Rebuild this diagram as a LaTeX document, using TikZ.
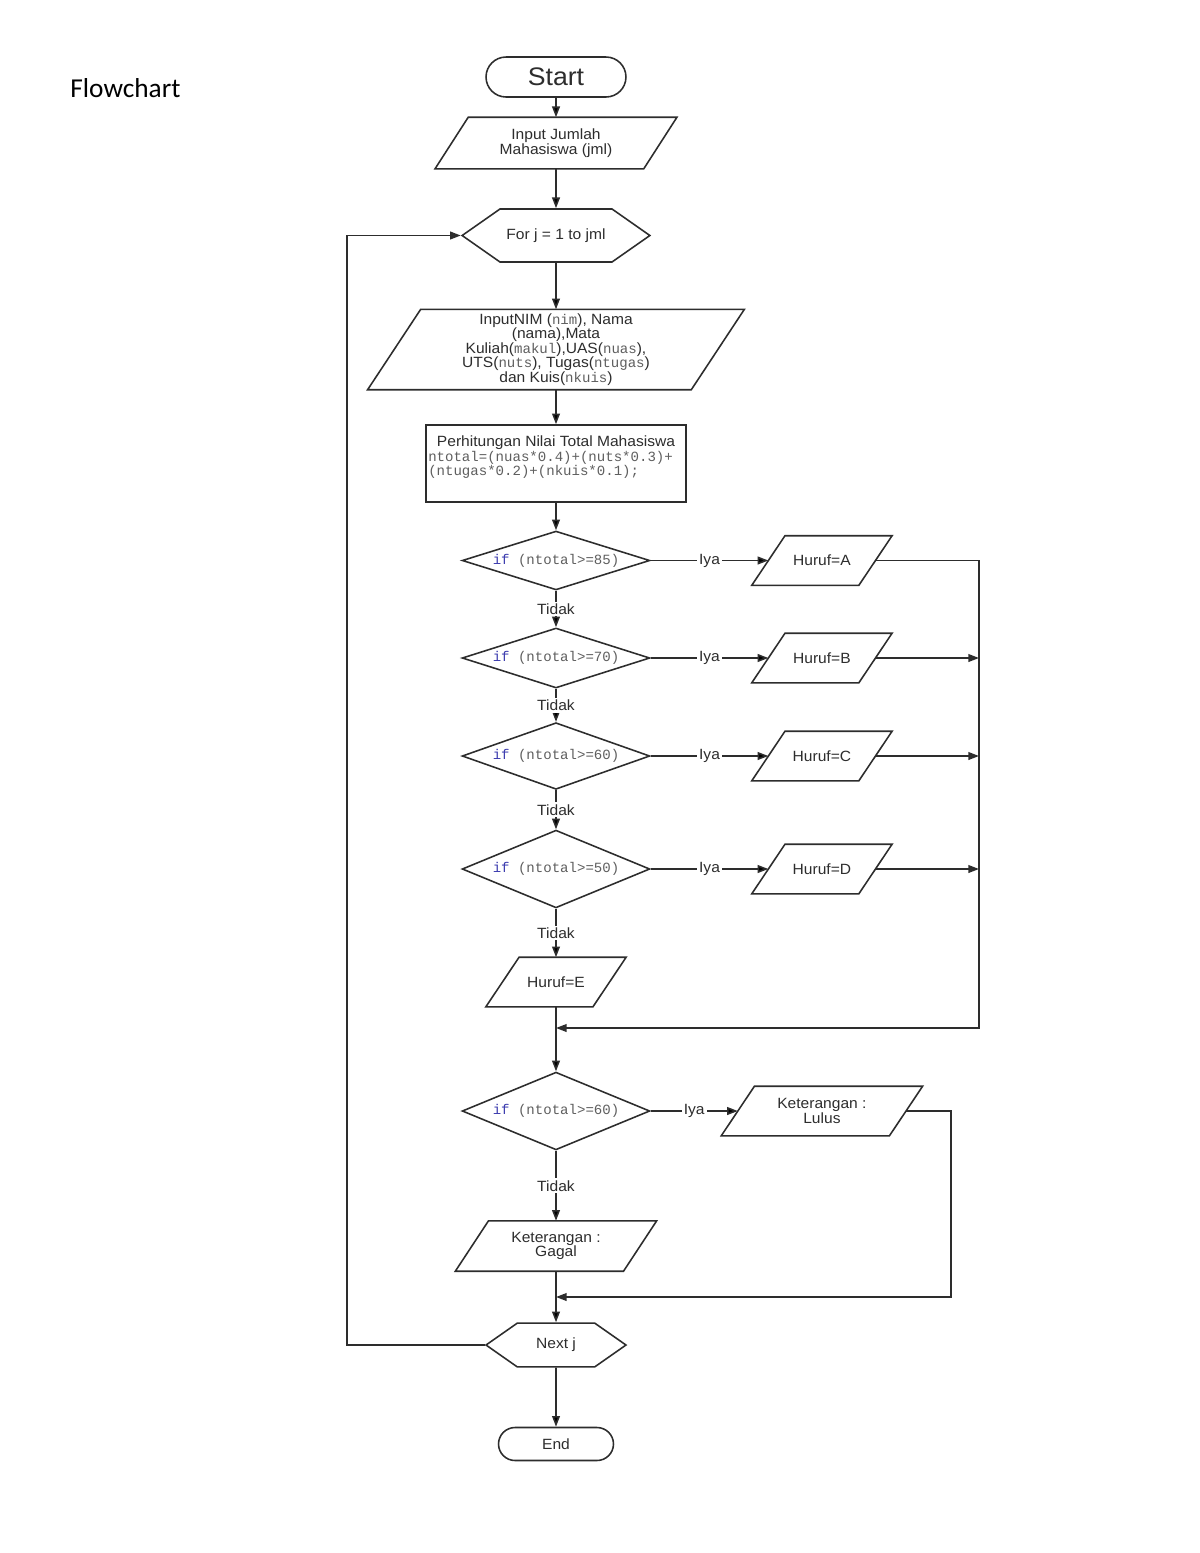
\documentclass[tikz,border=0pt]{standalone}
\usepackage{fontspec}
\setmainfont{Liberation Sans}[FakeStretch=1.05]
\setmonofont{Liberation Mono}
\newfontfamily\titlefont{Carlito}
\usetikzlibrary{shapes.geometric,shapes.misc,shapes.symbols,arrows.meta,positioning}

\definecolor{ink}{RGB}{45,45,45}
\definecolor{codegray}{RGB}{95,95,95}
\definecolor{kwblue}{RGB}{60,60,175}

\newcommand{\codetxt}[1]{{\ttfamily\fontsize{7.2}{7.7}\selectfont\color{codegray}#1}}
\newcommand{\iftest}[1]{\codetxt{\textcolor{kwblue}{if} (ntotal>=#1)}}
\newcommand{\bodyfont}{\fontsize{7.6}{7.4}\selectfont\lineskiplimit=-5pt}

\begin{document}
\begin{tikzpicture}[x=0.018cm, y=-0.018cm,
	every node/.style={text=ink, font=\bodyfont},
	line/.style={draw=ink, line width=0.8pt},
	flow/.style={line, -{Triangle[length=5.5pt,width=4pt]}},
	term/.style={rounded rectangle, draw=ink, line width=0.8pt, fill=white, inner sep=0pt},
	io/.style={rectangle, inner sep=0pt, outer sep=0.4pt, align=center,
		append after command={\pgfextra{\draw[line]
			([xshift=-#1]\tikzlastnode.south west) -- ([xshift=#1]\tikzlastnode.north west) --
			([xshift=#1]\tikzlastnode.north east) -- ([xshift=-#1]\tikzlastnode.south east) -- cycle;}}},
	io/.default=8.5pt,
	hexa/.style={signal, signal to=west and east, signal pointer angle=70,
		draw=ink, line width=0.8pt, fill=white, inner sep=0pt},
	decide/.style={diamond, aspect=3.2, draw=ink, line width=0.8pt, fill=white,
		inner sep=0pt, minimum width=3.38cm},
	proc/.style={rectangle, draw=ink, line width=0.8pt, fill=white, inner sep=0pt,
		minimum width=4.68cm, minimum height=1.386cm},
	lbl/.style={fill=white, inner sep=1pt},
	node distance=2.12cm]
	\path[use as bounding box, fill=white] (0,0) rectangle (1200,1553);
	\node[anchor=base west, inner sep=0pt, font=\titlefont\fontsize{14}{17}\selectfont, text=black] (title) at (70,97) {Flowchart};

	% main column
	\node[term, minimum width=2.52cm, minimum height=0.72cm, font=\fontsize{13}{15}\selectfont] (start) at (556,77) {Start};
	\node[io, minimum width=3.73cm, minimum height=0.9cm] (inp) at (556,143) {Input Jumlah\\Mahasiswa (jml)};
	\node[hexa, minimum width=3.38cm, minimum height=0.954cm] (forj) at (556,235.5) {For j = 1 to jml};
	\node[io=13.6pt, minimum width=5.8cm, minimum height=1.42cm] (nim) at (556,349.5) {InputNIM (\codetxt{nim}), Nama\\(nama),Mata\\Kuliah(\codetxt{makul}),UAS(\codetxt{nuas}),\\UTS(\codetxt{nuts}), Tugas(\codetxt{ntugas})\\dan Kuis(\codetxt{nkuis})};
	\node[proc] (hitung) at (556,463.5) {\begin{minipage}[c][1.3cm][t]{4.6cm}\vspace*{4.5pt}\centering Perhitungan Nilai Total Mahasiswa\par
		\raggedright\codetxt{ntotal=(nuas*0.4)+(nuts*0.3)+}\par\codetxt{(ntugas*0.2)+(nkuis*0.1);}\end{minipage}};
	\node[decide, minimum height=1.06cm] (d85) at (556,560.5) {\iftest{85}};
	\node[decide, minimum height=1.08cm] (d70) at (556,658) {\iftest{70}};
	\node[decide, minimum height=1.2cm] (d60) at (556,756) {\iftest{60}};
	\node[decide, minimum height=1.4cm] (d50) at (556,869) {\iftest{50}};
	\node[io, minimum width=1.9cm, minimum height=0.864cm] (he) at (556,982) {Huruf=E};
	\node[decide, minimum height=1.4cm] (dlulus) at (556,1111) {\iftest{60}};
	\node[io, minimum width=3.0cm, minimum height=0.88cm] (gagal) at (556,1246) {Keterangan :\\Gagal};
	\node[hexa, minimum width=2.52cm, minimum height=0.79cm] (nextj) at (556,1345) {Next j};
	\node[term, minimum width=2.07cm, minimum height=0.594cm] (stop) at (556,1444) {End};

	% side boxes
	\node[io, minimum width=1.9cm, minimum height=0.864cm] (ha) [right=of d85] {Huruf=A};
	\node[io, minimum width=1.9cm, minimum height=0.864cm] (hb) [right=of d70] {Huruf=B};
	\node[io, minimum width=1.9cm, minimum height=0.864cm] (hc) [right=of d60] {Huruf=C};
	\node[io, minimum width=1.9cm, minimum height=0.864cm] (hd) [right=of d50] {Huruf=D};
	\node[io, minimum width=3.0cm, minimum height=0.864cm] (lulus) [right=1.57cm of dlulus] {Keterangan :\\Lulus};

	\coordinate (busA) at (979,1028);
	\coordinate (joinA) at (556,1028);
	\coordinate (busB) at (951,1297);
	\coordinate (joinB) at (556,1297);
	\coordinate (back) at (347,1345);

	\path[flow] (start) edge (inp)
		(inp) edge (forj)
		(forj) edge (nim)
		(nim) edge (hitung)
		(hitung) edge (d85)
		(d85) edge node[lbl]{Tidak} (d70)
		(d70) edge node[lbl]{Tidak} (d60)
		(d60) edge node[lbl]{Tidak} (d50)
		(d50) edge node[lbl]{Tidak} (he)
		(he) edge (dlulus)
		(dlulus) edge node[lbl]{Tidak} (gagal)
		(gagal) edge (nextj)
		(nextj) edge (stop);
	\path[flow] (d85) edge node[lbl]{Iya} (ha)
		(d70) edge node[lbl]{Iya} (hb)
		(d60) edge node[lbl]{Iya} (hc)
		(d50) edge node[lbl]{Iya} (hd)
		(dlulus) edge node[lbl]{Iya} (lulus);

	\draw[flow] (ha.east) -| (busA) -- (joinA);
	\draw[flow] (hb.east) -- (hb.east -| busA);
	\draw[flow] (hc.east) -- (hc.east -| busA);
	\draw[flow] (hd.east) -- (hd.east -| busA);
	\draw[flow] (lulus.east) -| (busB) -- (joinB);
	\draw[flow] (nextj.west) -- (back) |- (forj.west);
\end{tikzpicture}
\end{document}
